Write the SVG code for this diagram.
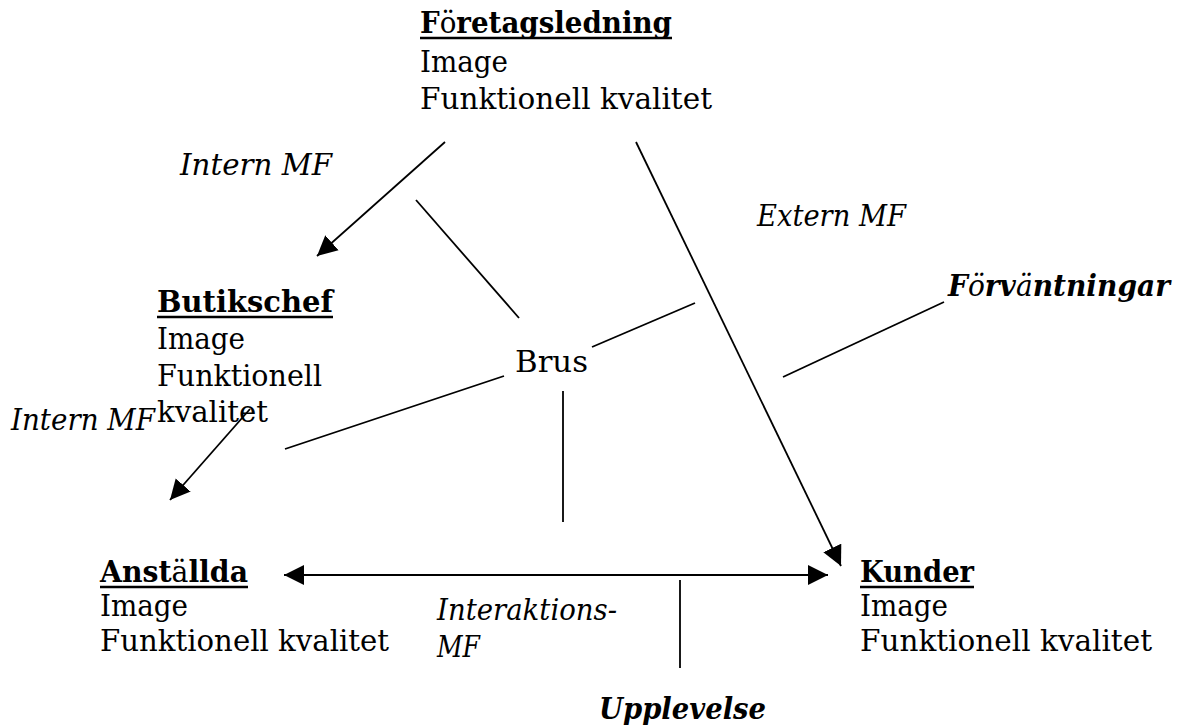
<svg xmlns="http://www.w3.org/2000/svg" width="1182" height="728" viewBox="0 0 1182 728">
<style>
.t{font-family:"DejaVu Serif","Liberation Serif",serif;font-size:29px;fill:#000}
.b{font-weight:bold}
.i{font-style:italic}
.n{font-weight:normal}
.ln{stroke:#000;stroke-width:1.8;fill:none}
.ul{stroke:#000;stroke-width:2.6}
</style>
<defs>
<marker id="ah" markerUnits="userSpaceOnUse" markerWidth="22" markerHeight="22" refX="20" refY="10" orient="auto-start-reverse" viewBox="0 0 22 20">
<path d="M0,0 L20,10 L0,20 z" fill="#000"/>
</marker>
</defs>
<rect width="1182" height="728" fill="#fff"/>
<g id="connectors">
<line class="ln" x1="445" y1="142" x2="317" y2="256" marker-end="url(#ah)"/>
<line class="ln" x1="636" y1="142" x2="841" y2="566" marker-end="url(#ah)"/>
<line class="ln" x1="250" y1="409" x2="170" y2="500" marker-end="url(#ah)"/>
<line class="ln" x1="284" y1="575" x2="828" y2="575" marker-start="url(#ah)" marker-end="url(#ah)"/>
<line class="ln" x1="416" y1="200" x2="519" y2="318"/>
<line class="ln" x1="592" y1="347" x2="695" y2="303"/>
<line class="ln" x1="504" y1="376" x2="285" y2="449"/>
<line class="ln" x1="563" y1="391" x2="563" y2="522"/>
<line class="ln" x1="944" y1="302" x2="783" y2="377"/>
<line class="ln" x1="680" y1="580" x2="680" y2="668"/>
</g>
<g id="foretagsledning">
<text class="t b" x="420" y="33" textLength="252" lengthAdjust="spacingAndGlyphs">F<tspan class="n">ö</tspan>retagsledning</text>
<line class="ul" x1="420" y1="38" x2="672" y2="38"/>
<text class="t" x="420" y="72" textLength="88" lengthAdjust="spacingAndGlyphs">Image</text>
<text class="t" x="420" y="109" textLength="292" lengthAdjust="spacingAndGlyphs">Funktionell kvalitet</text>
</g>
<g id="butikschef">
<text class="t b" x="157" y="312" textLength="176" lengthAdjust="spacingAndGlyphs">Butikschef</text>
<line class="ul" x1="157" y1="317" x2="333" y2="317"/>
<text class="t" x="157" y="349" textLength="88" lengthAdjust="spacingAndGlyphs">Image</text>
<text class="t" x="157" y="386" textLength="165" lengthAdjust="spacingAndGlyphs">Funktionell</text>
<text class="t" x="157" y="422" textLength="111" lengthAdjust="spacingAndGlyphs">kvalitet</text>
</g>
<g id="anstallda">
<text class="t b" x="100" y="582" textLength="148" lengthAdjust="spacingAndGlyphs">Anst<tspan class="n">ä</tspan>llda</text>
<line class="ul" x1="100" y1="587" x2="248" y2="587"/>
<text class="t" x="100" y="616" textLength="88" lengthAdjust="spacingAndGlyphs">Image</text>
<text class="t" x="100" y="651" textLength="289" lengthAdjust="spacingAndGlyphs">Funktionell kvalitet</text>
</g>
<g id="kunder">
<text class="t b" x="860" y="582" textLength="114" lengthAdjust="spacingAndGlyphs">Kunder</text>
<line class="ul" x1="860" y1="587" x2="974" y2="587"/>
<text class="t" x="860" y="616" textLength="88" lengthAdjust="spacingAndGlyphs">Image</text>
<text class="t" x="860" y="651" textLength="292" lengthAdjust="spacingAndGlyphs">Funktionell kvalitet</text>
</g>
<g id="brus">
<text class="t" x="515" y="372" textLength="73" lengthAdjust="spacingAndGlyphs">Brus</text>
</g>
<g id="labels">
<text class="t i" x="180" y="175" textLength="152" lengthAdjust="spacingAndGlyphs">Intern MF</text>
<text class="t i" x="757" y="226" textLength="149" lengthAdjust="spacingAndGlyphs">Extern MF</text>
<text class="t i" x="11" y="430" textLength="144" lengthAdjust="spacingAndGlyphs">Intern MF</text>
<text class="t b i" x="948" y="296" textLength="222" lengthAdjust="spacingAndGlyphs">F<tspan class="n">ö</tspan>rv<tspan class="n">ä</tspan>ntningar</text>
<text class="t i" x="437" y="620" textLength="180" lengthAdjust="spacingAndGlyphs">Interaktions-</text>
<text class="t i" x="437" y="657" textLength="43" lengthAdjust="spacingAndGlyphs">MF</text>
<text class="t b i" x="599" y="719" textLength="167" lengthAdjust="spacingAndGlyphs">Upplevelse</text>
</g>
</svg>
